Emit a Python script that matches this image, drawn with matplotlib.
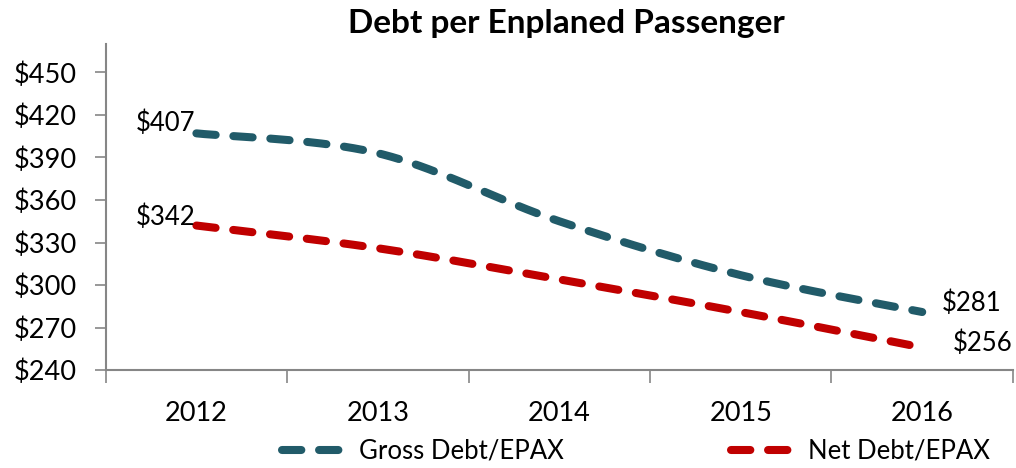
import numpy as np
import matplotlib
matplotlib.use("Agg")
import matplotlib.pyplot as plt
from matplotlib.lines import Line2D

# ── Daten ──────────────────────────────────────────────────────────────────────
years = ["2012", "2013", "2014", "2015", "2016"]
gross_debt = [407, 393, 345, 307, 281]
net_debt = [342, 326, 304, 281, 256]
y_ticks = [240, 270, 300, 330, 360, 390, 420, 450]

GROSS_COLOR = "#215B69"
NET_COLOR = "#C00000"

plt.rcParams["font.family"] = ["Lato", "DejaVu Sans"]


def smooth(xs, ys, n=40):
    # Excel-artige Glaettung (Catmull-Rom / Bezier mit 1/6-Kontrollpunkten)
    pts = np.column_stack([xs, ys]).astype(float)
    p = np.vstack([pts[0], pts, pts[-1]])
    out = []
    t = np.linspace(0, 1, n)[:, None]
    for i in range(1, len(p) - 2):
        p0, p1, p2, p3 = p[i - 1], p[i], p[i + 1], p[i + 2]
        c1 = p1 + (p2 - p0) / 6
        c2 = p2 - (p3 - p1) / 6
        seg = ((1 - t) ** 3) * p1 + 3 * ((1 - t) ** 2) * t * c1 \
            + 3 * (1 - t) * t ** 2 * c2 + t ** 3 * p2
        out.append(seg if i == 1 else seg[1:])
    out = np.vstack(out)
    return out[:, 0], out[:, 1]


x = np.arange(len(years))

fig = plt.figure(figsize=(10.16, 4.68), dpi=100)
ax = fig.add_axes([0.104, 0.209, 0.893, 0.697])

lw = 5.8
dash = (2.4, 2.2)
for vals, col in [(gross_debt, GROSS_COLOR), (net_debt, NET_COLOR)]:
    sx, sy = smooth(x, vals)
    ax.plot(sx, sy, color=col, lw=lw, dashes=dash, dash_capstyle="round")

# Datenbeschriftungen an Anfang und Ende
lab = 18.5
ax.annotate(f"${gross_debt[0]}", (x[0], gross_debt[0]), xytext=(-1, 7),
            textcoords="offset points", ha="right", va="center", fontsize=lab)
ax.annotate(f"${net_debt[0]}", (x[0], net_debt[0]), xytext=(-1, 6),
            textcoords="offset points", ha="right", va="center", fontsize=lab)
ax.annotate(f"${gross_debt[-1]}", (x[-1], gross_debt[-1]), xytext=(14, 6),
            textcoords="offset points", ha="left", va="center", fontsize=lab)
ax.annotate(f"${net_debt[-1]}", (x[-1], net_debt[-1]), xytext=(22, 3),
            textcoords="offset points", ha="left", va="center", fontsize=lab)

ax.set_xlim(-0.5, len(years) - 0.5)
ax.set_ylim(240, 470)
ax.set_yticks(y_ticks)
ax.set_yticklabels([f"${v}" for v in y_ticks], fontsize=19.5)
ax.set_xticks(x)
ax.set_xticklabels(years, fontsize=19.5)
ax.set_xticks(np.arange(-0.5, len(years)), minor=True)
ax.tick_params(axis="x", which="major", length=0, pad=22)
ax.tick_params(axis="x", which="minor", length=9, color="#868686", width=1.2)
ax.tick_params(axis="y", length=8, color="#868686", width=1.2, pad=13)

for s in ["top", "right"]:
    ax.spines[s].set_visible(False)
for s in ["left", "bottom"]:
    ax.spines[s].set_color("#868686")
    ax.spines[s].set_linewidth(1.5)

fig.text(0.557, 0.95, "Debt per Enplaned Passenger", ha="center", va="center",
         fontsize=24, fontweight="bold")

handles = [Line2D([], [], color=GROSS_COLOR, lw=lw, dashes=dash, dash_capstyle="round"),
           Line2D([], [], color=NET_COLOR, lw=lw, dashes=dash, dash_capstyle="round")]
fig.legend(handles, ["Gross Debt/EPAX", "Net Debt/EPAX"], loc="center",
           bbox_to_anchor=(0.626, 0.036), ncol=2, frameon=False, fontsize=18.5,
           handlelength=2.5, handletextpad=0.5, columnspacing=6.5)

fig.savefig("out.png", dpi=100)
